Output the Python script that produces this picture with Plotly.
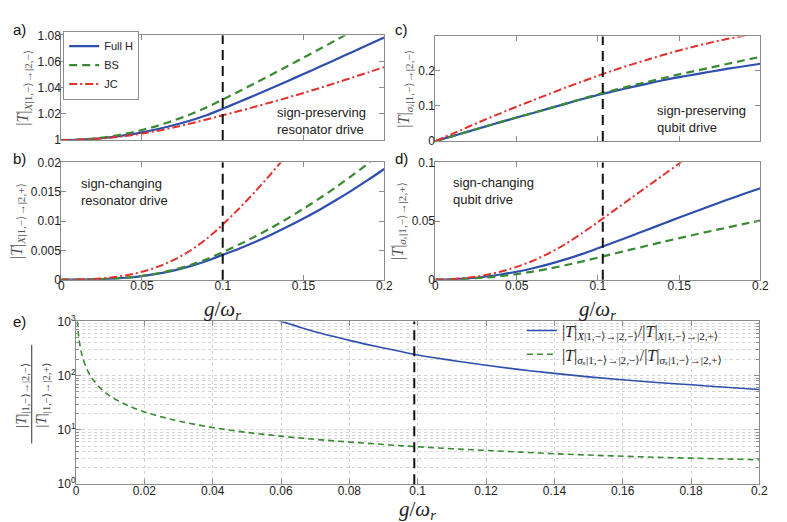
import plotly.graph_objects as go

# ---------------- data ----------------
g = [0.0, 0.01, 0.02, 0.03, 0.04, 0.05, 0.06, 0.07, 0.08, 0.09, 0.1,
     0.11, 0.12, 0.13, 0.14, 0.15, 0.16, 0.17, 0.18, 0.19, 0.2]

# a) sign-preserving resonator drive
a_full = [1.0, 1.0002, 1.0009, 1.0021, 1.0038, 1.0059, 1.0085, 1.0115, 1.015, 1.019, 1.024,
          1.0291, 1.0343, 1.0396, 1.045, 1.0505, 1.056, 1.0616, 1.0672, 1.0728, 1.0785]
a_bs = [1.0, 1.0003, 1.0012, 1.0027, 1.0049, 1.0077, 1.0111, 1.0151, 1.0197, 1.025, 1.031,
        1.0372, 1.0435, 1.0499, 1.0564, 1.063, 1.0696, 1.0763, 1.083, 1.0898, 1.0966]
a_jc = [1.0, 1.0002, 1.0008, 1.0018, 1.0032, 1.005, 1.0072, 1.0098, 1.0127, 1.0158, 1.019,
        1.0222, 1.0255, 1.0289, 1.0324, 1.036, 1.0398, 1.0437, 1.0477, 1.0517, 1.0558]

# b) sign-changing resonator drive
b_full = [0.0, 0.00001, 0.00005, 0.00015, 0.00033, 0.00062, 0.00104, 0.0016, 0.00231, 0.00319, 0.00423,
          0.00529, 0.00644, 0.00768, 0.00901, 0.01043, 0.01194, 0.01354, 0.01523, 0.01701, 0.01888]
b_bs = [0.0, 0.00001, 0.00005, 0.00015, 0.00034, 0.00065, 0.0011, 0.00171, 0.0025, 0.00349, 0.0047,
        0.00598, 0.00736, 0.00884, 0.01042, 0.0121, 0.01388, 0.01576, 0.01774, 0.01982, 0.022]
b_jc = [0.0, 0.00002, 0.00012, 0.00034, 0.00073, 0.00134, 0.00222, 0.00342, 0.00498, 0.00696, 0.0094,
        0.0121, 0.015, 0.0181, 0.0214, 0.0249]

# c) sign-preserving qubit drive
c_full = [0.0, 0.0135, 0.027, 0.0405, 0.054, 0.067, 0.08, 0.093, 0.106, 0.119, 0.131,
          0.142, 0.153, 0.163, 0.173, 0.182, 0.19, 0.198, 0.206, 0.213, 0.22]
c_bs = [0.0, 0.0135, 0.027, 0.0405, 0.054, 0.067, 0.08, 0.093, 0.1065, 0.12, 0.133,
        0.145, 0.157, 0.168, 0.179, 0.19, 0.2, 0.21, 0.22, 0.23, 0.24]
c_jc = [0.0, 0.02, 0.04, 0.06, 0.079, 0.098, 0.116, 0.134, 0.152, 0.169, 0.186,
        0.202, 0.217, 0.231, 0.245, 0.258, 0.27, 0.281, 0.291, 0.3, 0.308]

# d) sign-changing qubit drive
d_full = [0.0, 0.0003, 0.0011, 0.0025, 0.0044, 0.0068, 0.0098, 0.0133, 0.0173, 0.0218, 0.0268,
          0.0319, 0.0371, 0.0424, 0.0477, 0.053, 0.0582, 0.0633, 0.0683, 0.0732, 0.078]
d_bs = [0.0, 0.0002, 0.0008, 0.0018, 0.0031, 0.0048, 0.0069, 0.0094, 0.0123, 0.0154, 0.0188,
        0.0222, 0.0256, 0.0289, 0.0322, 0.0354, 0.0385, 0.0416, 0.0446, 0.0476, 0.0505]
d_jc = [0.0, 0.00042, 0.00168, 0.00378, 0.00683, 0.01092, 0.01617, 0.02268, 0.03045, 0.03938, 0.04914,
        0.05912, 0.0691, 0.07907, 0.08904, 0.09902, 0.109]

# e) ratios
g_e_x = [0.055, 0.06, 0.065, 0.07, 0.075, 0.08, 0.09, 0.1, 0.11, 0.12, 0.13,
         0.14, 0.15, 0.16, 0.17, 0.18, 0.19, 0.2]
e_x = [1250, 1000, 800, 646, 535, 447, 324, 240, 191, 155, 129,
       110, 95, 84, 75, 68, 61, 55.6]
g_e_sx = [0.0004, 0.0007, 0.001, 0.0015, 0.002, 0.003, 0.004, 0.005, 0.0075, 0.01, 0.0125,
          0.015, 0.02, 0.025, 0.03, 0.04, 0.05, 0.06, 0.07, 0.08, 0.09, 0.1, 0.11, 0.12,
          0.13, 0.14, 0.15, 0.16, 0.17, 0.18, 0.19, 0.2]
e_sx = [1040, 600, 420, 280, 210, 140, 105, 84, 56, 42, 34,
        28.5, 21.5, 17.4, 14.6, 11.1, 9.0, 7.7, 6.7, 6.0, 5.4, 4.9, 4.5, 4.2,
        3.9, 3.65, 3.45, 3.28, 3.13, 3.02, 2.92, 2.83]

# position of the vertical dashed marker in each panel
g_marker = {"x": 0.1, "x2": 0.1, "x3": 0.103, "x4": 0.103, "x5": 0.099}

series_names = ["Full H", "BS", "JC"]
e_names = ["|<i>T</i>|<sub><i>X</i>|1,−⟩→|2,−⟩</sub>/|<i>T</i>|<sub><i>X</i>|1,−⟩→|2,+⟩</sub>",
           "|<i>T</i>|<sub><i>σₓ</i>|1,−⟩→|2,−⟩</sub>/|<i>T</i>|<sub><i>σₓ</i>|1,−⟩→|2,+⟩</sub>"]

# ---------------- styling ----------------
W, H = 787, 522
BLUE, GREEN, RED = "#2f4fae", "#3a8a33", "#e2302b"
FRAME = "#8c8c8c"
GRID = "#d4d4d4"
SANS = "Liberation Sans, Arial, sans-serif"
SERIF = "Liberation Serif, DejaVu Serif, serif"


def px(x0, x1):
    return [x0 / W, x1 / W]


def py(top, bottom):
    return [1 - bottom / H, 1 - top / H]


fig = go.Figure()

styles = [dict(color=BLUE, width=2.2, dash="solid"),
          dict(color=GREEN, width=2.2, dash="8px,5px"),
          dict(color=RED, width=2.0, dash="8px,3px,2px,3px")]

panels = [("x", "y", [a_full, a_bs, a_jc]),
          ("x2", "y2", [b_full, b_bs, b_jc]),
          ("x3", "y3", [c_full, c_bs, c_jc]),
          ("x4", "y4", [d_full, d_bs, d_jc])]

for pi, (xa, ya, ser) in enumerate(panels):
    for si, vals in enumerate(ser):
        fig.add_trace(go.Scatter(
            x=g[:len(vals)], y=vals, mode="lines", name=series_names[si],
            line=dict(shape="spline", smoothing=0.8, **styles[si]), xaxis=xa, yaxis=ya,
            showlegend=(pi == 0), legend="legend"))

fig.add_trace(go.Scatter(x=g_e_x, y=e_x, mode="lines", name=e_names[0],
                         line=dict(color=BLUE, width=1.6, shape="spline"),
                         xaxis="x5", yaxis="y5", legend="legend2"))
fig.add_trace(go.Scatter(x=g_e_sx, y=e_sx, mode="lines", name=e_names[1],
                         line=dict(color=GREEN, width=1.6, dash="6px,4px", shape="spline"),
                         xaxis="x5", yaxis="y5", legend="legend2"))

base = dict(showline=True, linecolor=FRAME, linewidth=1, mirror="ticks", ticks="inside",
            ticklen=5, tickcolor=FRAME, zeroline=False, showgrid=False,
            tickfont=dict(family=SANS, size=12, color="#222"))
bx = dict(base, ticklabelstandoff=-5)
by = dict(base, ticklabelstandoff=-3)

ytitle_font = dict(family=SERIF, size=16, color="#555")

layout = dict(
    width=W, height=H, margin=dict(l=0, r=0, t=0, b=0),
    paper_bgcolor="white", plot_bgcolor="white",
    xaxis=dict(bx, domain=px(51, 379), anchor="y", range=[0, 0.2], dtick=0.05, showticklabels=False),
    yaxis=dict(by, domain=py(19, 127), anchor="x", range=[1, 1.08], dtick=0.02,
               title=dict(text="|<i>T</i>|<sub><i>X</i>|1,−⟩→|2,−⟩</sub>", font=ytitle_font, standoff=4)),
    xaxis2=dict(bx, domain=px(51, 379), anchor="y2", range=[0, 0.2], dtick=0.05),
    yaxis2=dict(by, domain=py(150, 271), anchor="x2", range=[0, 0.02], dtick=0.005,
                title=dict(text="|<i>T</i>|<sub><i>X</i>|1,−⟩→|2,+⟩</sub>", font=ytitle_font, standoff=4)),
    xaxis3=dict(bx, domain=px(431, 761), anchor="y3", range=[0, 0.2], dtick=0.05, showticklabels=False),
    yaxis3=dict(by, domain=py(20, 128), anchor="x3", range=[0, 0.298], dtick=0.1,
                title=dict(text="|<i>T</i>|<sub><i>σₓ</i>|1,−⟩→|2,−⟩</sub>", font=ytitle_font, standoff=4)),
    xaxis4=dict(bx, domain=px(431, 761), anchor="y4", range=[0, 0.2], dtick=0.05),
    yaxis4=dict(by, domain=py(150, 271), anchor="x4", range=[0, 0.1], dtick=0.05,
                title=dict(text="|<i>T</i>|<sub><i>σₓ</i>|1,−⟩→|2,+⟩</sub>", font=ytitle_font, standoff=4)),
    xaxis5=dict(bx, domain=px(66, 760), anchor="y5", range=[0, 0.2], dtick=0.02,
                showgrid=True, gridcolor=GRID, griddash="dot", gridwidth=1),
    yaxis5=dict(by, domain=py(314, 482), anchor="x5", type="log", range=[0, 3],
                tickvals=[1, 10, 100, 1000],
                ticktext=["10<sup>0</sup>", "10<sup>1</sup>", "10<sup>2</sup>", "10<sup>3</sup>"],
                showgrid=True, gridcolor=GRID, griddash="dot", gridwidth=1,
                minor=dict(dtick="D1", ticks="inside", ticklen=3, tickcolor=FRAME,
                           showgrid=True, gridcolor=GRID, griddash="dot", gridwidth=1)),
    legend=dict(x=53 / W, y=1 - 14 / H, xanchor="left", yanchor="top", bgcolor="white",
                bordercolor=FRAME, borderwidth=1, font=dict(family=SANS, size=11, color="#222"),
                itemwidth=30, tracegroupgap=0),
    legend2=dict(x=0.925, y=1 - 306 / H, xanchor="right", yanchor="top",
                 bgcolor="rgba(0,0,0,0)", font=dict(family=SERIF, size=16, color="#222"),
                 itemwidth=30, tracegroupgap=0),
)
fig.update_layout(**layout)

# vertical dashed markers
for xa, gv in g_marker.items():
    ya = "y" + xa[1:]
    fig.add_shape(type="line", xref=xa, yref=ya + " domain", x0=gv, x1=gv, y0=0, y1=1,
                  line=dict(color="#111", width=2, dash="10px,6px"), layer="above")

# x titles
xt_font = dict(family=SERIF, size=21, color="#222")
for xc, yc in [(215, 302), (596, 302), (413, 509)]:
    fig.add_annotation(text="<i>g</i>/<i>ω<sub>r</sub></i>", xref="paper", yref="paper",
                       x=xc / W, y=1 - yc / H, xanchor="center", yanchor="middle",
                       showarrow=False, font=xt_font)

# panel letters and descriptions
ann_font = dict(family=SANS, size=13, color="#222")
lab_font = dict(family=SANS, size=15, color="#111")
for txt, x0, y0 in [("a)", 0, 2), ("b)", 0, 135), ("c)", 388, 2), ("d)", 388, 135), ("e)", 0, 303)]:
    fig.add_annotation(text=txt, xref="paper", yref="paper", x=x0 / W, y=1 - y0 / H,
                       xanchor="left", yanchor="top", showarrow=False, font=lab_font)

for txt, x0, y0 in [("sign-preserving<br>resonator drive", 268, 89),
                    ("sign-changing<br>resonator drive", 69, 162),
                    ("sign-preserving<br>qubit drive", 654, 87),
                    ("sign-changing<br>qubit drive", 447, 161)]:
    fig.add_annotation(text=txt, xref="paper", yref="paper", x=x0 / W, y=1 - y0 / H,
                       xanchor="left", yanchor="top", align="left", showarrow=False, font=ann_font)

# y-title of panel e as a fraction
for txt, xc in [("|<i>T</i>|<sub>|1,−⟩→|2,−⟩</sub>", 11), ("|<i>T</i>|<sub>|1,−⟩→|2,+⟩</sub>", 32)]:
    fig.add_annotation(text=txt, xref="paper", yref="paper", x=xc / W, y=1 - 390 / H,
                       xanchor="center", yanchor="middle", textangle=-90, showarrow=False,
                       font=dict(family=SERIF, size=15, color="#444"))
fig.add_shape(type="line", xref="paper", yref="paper", x0=21 / W, x1=21 / W,
              y0=1 - 440 / H, y1=1 - 338 / H, line=dict(color="#555", width=1.2))

fig.write_html("out.html")
